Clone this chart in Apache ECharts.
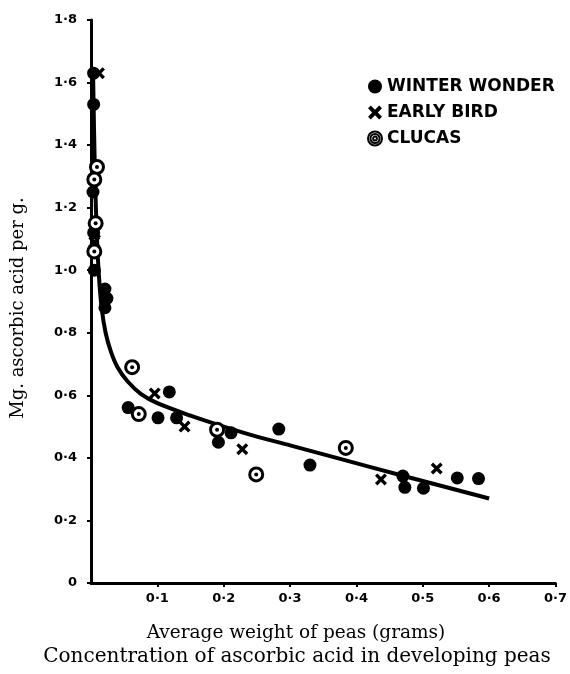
<!DOCTYPE html>
<html><head><meta charset="utf-8">
<script src="https://cdn.jsdelivr.net/npm/echarts@6/dist/echarts.min.js"></script>
<style>html,body{margin:0;padding:0;background:#fff}#c{width:570px;height:674px}</style>
</head><body><div id="c"></div>
<script>
// Data
var winterWonder = [[0.004,1.63],[0.004,1.53],[0.003,1.25],[0.004,1.12],[0.005,1.00],[0.021,0.94],[0.024,0.91],[0.021,0.88],
  [0.056,0.561],[0.101,0.528],[0.118,0.611],[0.129,0.528],[0.192,0.45],[0.211,0.48],[0.283,0.492],[0.33,0.377],
  [0.47,0.342],[0.473,0.306],[0.501,0.303],[0.552,0.336],[0.584,0.334]];
var earlyBird = [[0.012,1.63],[0.006,1.12],[0.005,1.09],[0.096,0.606],[0.141,0.50],[0.228,0.428],[0.437,0.331],[0.521,0.366]];
var clucas = [[0.009,1.33],[0.005,1.29],[0.007,1.15],[0.005,1.06],[0.062,0.69],[0.072,0.54],[0.19,0.49],[0.249,0.347],[0.384,0.432]];
var curveX = [0.003,0.006,0.009,0.012,0.016,0.022,0.030,0.040,0.055,0.075,0.100,0.150,0.200,0.250,0.300,0.370,0.470,0.570,0.600];
var curveY = [1.64,1.30,1.10,0.98,0.88,0.80,0.74,0.69,0.645,0.605,0.575,0.535,0.500,0.468,0.440,0.400,0.343,0.287,0.270];
var seriesNames = ['WINTER WONDER','EARLY BIRD','CLUCAS'];
var xTitle = 'Average weight of peas (grams)';
var caption = 'Concentration of ascorbic acid in developing peas';
var yTitle = 'Mg. ascorbic acid per g.';

var crossPath = 'path://M4,0 L10,6 L16,0 L20,4 L14,10 L20,16 L16,20 L10,14 L4,20 L0,16 L6,10 L0,4 Z';
var ringDotPath = 'path://M0,10 A10,10 0 1,1 20,10 A10,10 0 1,1 0,10 Z M3.5,10 A6.5,6.5 0 1,0 16.5,10 A6.5,6.5 0 1,0 3.5,10 Z M7.3,10 A2.7,2.7 0 1,1 12.7,10 A2.7,2.7 0 1,1 7.3,10 Z';

function fmt(v){
  if (v === 0) return '0';
  return v.toFixed(1).replace('.', '·');
}
var curve = curveX.map(function(x,i){return [x, curveY[i]];});
var chart = echarts.init(document.getElementById('c'));
chart.setOption({
  animation: false,
  backgroundColor: '#fff',
  grid: {left: 91, right: 10, top: 20, bottom: 91, containLabel: false},
  legend: {
    orient: 'vertical', left: 362, top: 73, itemGap: 9, itemWidth: 14, itemHeight: 14,
    data: [
      {name: seriesNames[0], icon: 'circle'},
      {name: seriesNames[1], icon: crossPath},
      {name: seriesNames[2], icon: ringDotPath}
    ],
    textStyle: {fontFamily: 'DejaVu Sans', fontWeight: 'bold', fontSize: 17, color: '#000'}
  },
  xAxis: {
    type: 'value', min: 0, max: 0.7, interval: 0.1,
    axisLine: {onZero: false, lineStyle: {color: '#000', width: 3}},
    axisTick: {show: true, length: 4, lineStyle: {color: '#000', width: 2}},
    splitLine: {show: false},
    axisLabel: {showMinLabel: false, margin: 9, formatter: fmt, color: '#000',
      fontFamily: 'DejaVu Sans', fontWeight: 'bold', fontSize: 13}
  },
  yAxis: {
    type: 'value', min: 0, max: 1.8, interval: 0.2,
    axisLine: {show: true, lineStyle: {color: '#000', width: 3}},
    axisTick: {show: true, length: 4, lineStyle: {color: '#000', width: 2}},
    splitLine: {show: false},
    axisLabel: {margin: 14, formatter: fmt, color: '#000',
      fontFamily: 'DejaVu Sans', fontWeight: 'bold', fontSize: 13}
  },
  graphic: [
    {type: 'text', x: 18, y: 308, rotation: Math.PI / 2, style: {text: yTitle, fill: '#000', font: '18px "DejaVu Serif"', textAlign: 'center', textVerticalAlign: 'middle'}},
    {type: 'text', x: 296, y: 633, style: {text: xTitle, fill: '#000', font: '18.5px "DejaVu Serif"', textAlign: 'center', textVerticalAlign: 'middle'}},
    {type: 'text', x: 297, y: 657, style: {text: caption, fill: '#000', font: '20px "DejaVu Serif"', textAlign: 'center', textVerticalAlign: 'middle'}}
  ],
  series: [
    {type: 'line', data: curve, showSymbol: false, smooth: 0.3,
      lineStyle: {color: '#000', width: 4}, z: 1, silent: true},
    {name: seriesNames[0], type: 'scatter', data: winterWonder, symbol: 'circle', symbolSize: 13,
      itemStyle: {color: '#000', opacity: 1}, z: 3},
    {name: seriesNames[1], type: 'scatter', data: earlyBird, symbol: crossPath, symbolSize: 12,
      itemStyle: {color: '#000', opacity: 1}, z: 3},
    {name: seriesNames[2], type: 'scatter', data: clucas, symbol: 'circle', symbolSize: 13,
      itemStyle: {color: '#fff', borderColor: '#000', borderWidth: 3, opacity: 1}, z: 4},
    {name: 'clucasDot', type: 'scatter', data: clucas, symbol: 'circle', symbolSize: 4,
      itemStyle: {color: '#000', opacity: 1}, z: 5, silent: true}
  ]
});
</script></body></html>
